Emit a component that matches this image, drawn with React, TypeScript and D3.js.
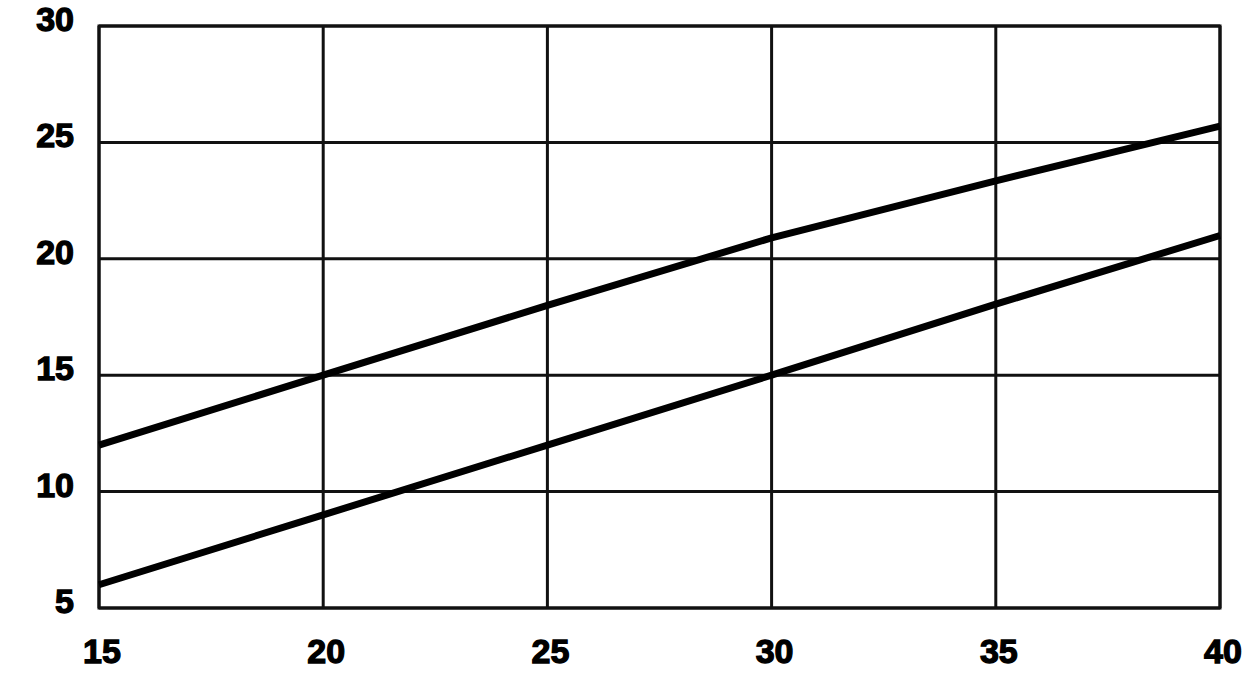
import React from "react";
import * as d3 from "d3";

const xValues = [15, 20, 25, 30, 35, 40];
const upperSeries = [12, 15, 18, 20.9, 23.35, 25.7];
const lowerSeries = [6, 9, 12, 15, 18.05, 21.0];
const xTicks = [15, 20, 25, 30, 35, 40];
const yTicks = [5, 10, 15, 20, 25, 30];

const W = 1254;
const H = 690;
const left = 99;
const right = 1220;
const top = 26;
const bottom = 608;

export default function App() {
  const x = d3.scaleLinear().domain([15, 40]).range([left, right]);
  const y = d3.scaleLinear().domain([5, 30]).range([bottom, top]);
  const line = d3
    .line<number>()
    .x((_, i) => x(xValues[i]))
    .y((d) => y(d));
  const font = "'Liberation Sans', Arial, Helvetica, sans-serif";
  return (
    <svg
      width={W}
      height={H}
      style={{ position: "absolute", left: 0, top: 0, background: "#fff" }}
    >
      <rect x={0} y={0} width={W} height={H} fill="#fff" />
      {xTicks.map((t) => (
        <line key={"vx" + t} x1={x(t)} x2={x(t)} y1={top} y2={bottom} stroke="#111" strokeWidth={3} />
      ))}
      {yTicks.map((t) => (
        <line key={"hy" + t} x1={left} x2={right} y1={y(t)} y2={y(t)} stroke="#111" strokeWidth={3} />
      ))}
      <rect x={left} y={top} width={right - left} height={bottom - top} fill="none" stroke="#111" strokeWidth={3} />
      <path d={line(upperSeries) || ""} fill="none" stroke="#000" strokeWidth={7} />
      <path d={line(lowerSeries) || ""} fill="none" stroke="#000" strokeWidth={7} />
      {yTicks.map((t) => (
        <text
          key={"yl" + t}
          x={74}
          y={y(t) - 4}
          textAnchor="end"
          dominantBaseline="middle"
          fontFamily={font}
          fontWeight="bold"
          fontSize={34}
          fill="#000"
          stroke="#000"
          strokeWidth={1.3}
        >
          {t}
        </text>
      ))}
      {xTicks.map((t) => (
        <text
          key={"xl" + t}
          x={x(t) + 3}
          y={663}
          textAnchor="middle"
          fontFamily={font}
          fontWeight="bold"
          fontSize={34}
          fill="#000"
          stroke="#000"
          strokeWidth={1.3}
        >
          {t}
        </text>
      ))}
    </svg>
  );
}
